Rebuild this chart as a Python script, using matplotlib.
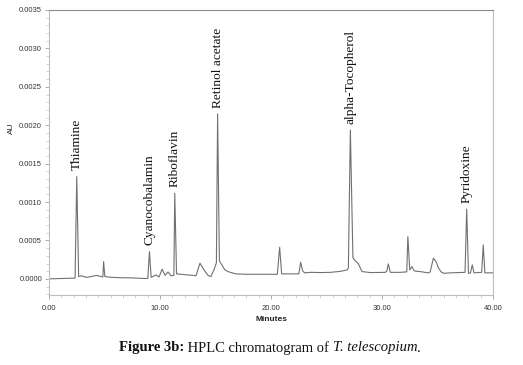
import matplotlib
matplotlib.use("Agg")
import matplotlib.pyplot as plt
from matplotlib.ticker import MultipleLocator, AutoMinorLocator, FormatStrFormatter

# trace vertices (minutes, AU)
minutes = [0.0, 2.35, 2.5, 2.67, 2.92, 3.37, 3.82, 4.26, 4.71, 4.85, 4.92, 5.03,
           5.61, 6.51, 7.41, 8.3, 8.9, 9.05, 9.2, 9.65, 9.92, 10.19, 10.46, 10.73,
           11.0, 11.25, 11.33, 11.49, 11.9, 12.43, 12.97, 13.24, 13.6, 13.96, 14.32,
           14.59, 14.86, 15.08, 15.19, 15.35, 15.57, 15.84, 16.2, 16.83, 17.73, 19.08,
           20.57, 20.78, 20.96, 21.77, 22.51, 22.67, 22.85, 23.03, 23.56, 24.46, 25.36,
           26.26, 26.86, 26.97, 27.15, 27.38, 27.6, 27.87, 28.2, 28.95, 30.3, 30.43,
           30.57, 30.75, 31.65, 32.23, 32.33, 32.5, 32.7, 32.9, 33.62, 34.16, 34.34,
           34.63, 34.88, 35.08, 35.32, 35.59, 36.13, 37.48, 37.63, 37.79, 37.97, 38.13,
           38.29, 38.98, 39.12, 39.27, 40.0]
au = [0.0, 0.00001, 0.001331, 0.00003, 0.00004, 0.00002, 0.00003, 0.000045, 0.00003,
      0.000025, 0.000225, 0.00003, 0.00002, 0.000015, 0.000013, 0.000007, 0.000005,
      0.000355, 0.00002, 0.00005, 0.000026, 0.000126, 0.000046, 0.00009, 0.00004,
      0.000046, 0.001115, 0.000065, 0.00006, 0.000052, 0.000046, 0.00004, 0.000204,
      0.000117, 0.000046, 0.00003, 0.000117, 0.000208, 0.002147, 0.000234, 0.000182,
      0.000117, 0.000091, 0.000065, 0.00006, 0.00006, 0.00006, 0.000412, 0.000065,
      0.000065, 0.000065, 0.000217, 0.000104, 0.000078, 0.000085, 0.000082, 0.000085,
      0.000098, 0.000117, 0.000143, 0.001938, 0.000273, 0.000234, 0.000195, 0.000095,
      0.000082, 0.000085, 0.000098, 0.000195, 0.000085, 0.000085, 0.000091, 0.00055,
      0.000117, 0.00016, 0.000104, 0.000091, 0.000078, 0.000091, 0.000269, 0.000221,
      0.000143, 0.000091, 0.000072, 0.000078, 0.000085, 0.000907, 0.000072, 0.000078,
      0.000182, 0.000078, 0.000085, 0.000442, 0.000078, 0.000078]

peak_names = ["Thiamine", "Cyanocobalamin", "Riboflavin", "Retinol acetate",
              "alpha-Tocopherol", "Pyridoxine"]
peak_times = [2.5, 9.05, 11.33, 15.19, 27.15, 37.63]
peak_heights = [0.001331, 0.000355, 0.001115, 0.002147, 0.001938, 0.000907]

fig = plt.figure(figsize=(5.23, 3.65), dpi=100)
ax = fig.add_axes([49 / 523, 1 - 295 / 365, 444 / 523, 285 / 365])

ax.plot(minutes, au, color="#707070", lw=0.8)

for name, t, h in zip(peak_names, peak_times, peak_heights):
    ax.annotate(name, (t, h), xytext=(0, 4.5), textcoords="offset points",
                rotation=90, ha="center", va="bottom",
                family="Liberation Serif", size=9.6, color="#111111")

ax.set_xlim(0, 40)
ax.set_ylim(-0.00021, 0.0035)
ax.xaxis.set_major_locator(MultipleLocator(10))
ax.xaxis.set_minor_locator(AutoMinorLocator(9))
ax.yaxis.set_major_locator(MultipleLocator(0.0005))
ax.yaxis.set_minor_locator(MultipleLocator(0.0001))
ax.xaxis.set_major_formatter(FormatStrFormatter("%.2f"))
ax.yaxis.set_major_formatter(FormatStrFormatter("%.4f"))

for lab in ax.get_xticklabels() + ax.get_yticklabels():
    lab.set_family("Liberation Sans")
ax.tick_params(which="major", length=3, width=0.6, color="#a0a0a0",
               labelsize=5.5, labelcolor="#333333", pad=2)
ax.tick_params(which="minor", length=2, width=0.5, color="#c0c0c0")
ax.tick_params(axis="x", which="major", pad=4)

for s in ["left", "bottom", "right"]:
    ax.spines[s].set_color("#bdbdbd")
    ax.spines[s].set_linewidth(0.8)
ax.spines["top"].set_color("#8a8a8a")
ax.spines["top"].set_linewidth(0.8)

ax.set_ylabel("AU", family="Liberation Sans", size=6, color="#222222")
ax.yaxis.set_label_coords(-0.077, 0.586)
ax.set_xlabel("Minutes", family="Liberation Sans", size=6, color="#222222",
              weight="bold", labelpad=3)

# caption built from pieces so bold / italic parts sit side by side
caption = [("Figure 3b:", "bold", "normal"),
           (" HPLC chromatogram of ", "normal", "normal"),
           ("T. telescopium", "normal", "italic"),
           (".", "normal", "normal")]
renderer = fig.canvas.get_renderer()
pieces = []
for txt, w, st in caption:
    p = fig.text(0, 1 - 348 / 365, txt, ha="left", va="center", size=10.5,
                 family="Liberation Serif", weight=w, style=st, color="#111111")
    pieces.append(p)
widths = [p.get_window_extent(renderer).width / fig.bbox.width for p in pieces]
x = 0.516 - sum(widths) / 2
for p, wd in zip(pieces, widths):
    p.set_x(x)
    x += wd

fig.savefig("out.png", dpi=100)
